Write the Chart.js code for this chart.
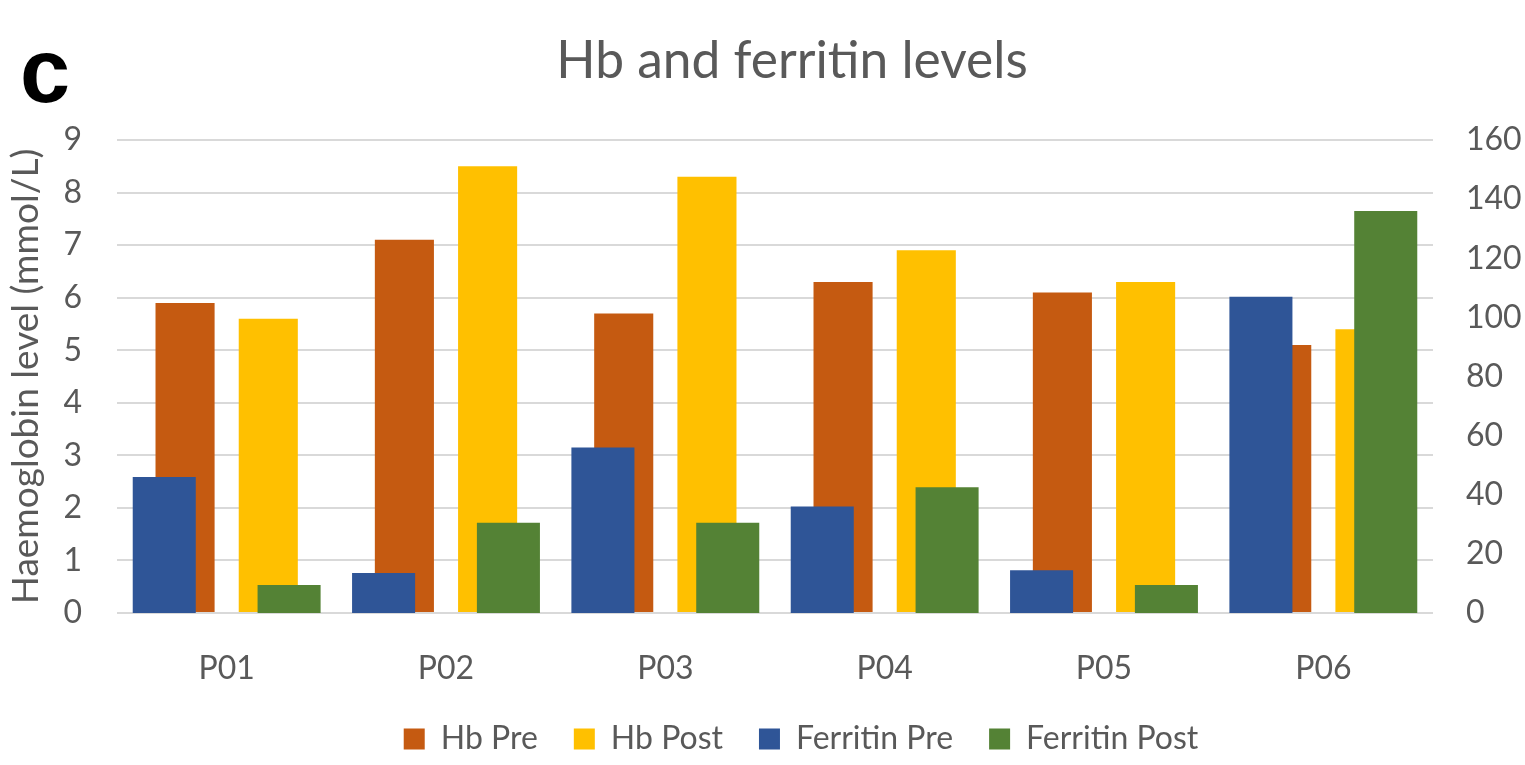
<!DOCTYPE html>
<html>
<head>
<meta charset="utf-8">
<title>Hb and ferritin levels</title>
<script src="https://cdn.jsdelivr.net/npm/chart.js@4.4.1/dist/chart.umd.min.js"></script>
<style>
  html, body { margin: 0; padding: 0; background: #fff; }
  #wrap { width: 1525px; height: 765px; position: relative; }
</style>
</head>
<body>
<div id="wrap"><canvas id="hbChart"></canvas></div>
<script>
const patients = ['P01', 'P02', 'P03', 'P04', 'P05', 'P06'];
const hbPre = [5.9, 7.1, 5.7, 6.3, 6.1, 5.1];
const hbPost = [5.6, 8.5, 8.3, 6.9, 6.3, 5.4];
const ferritinPre = [46, 13.5, 56, 36, 14.5, 107];
const ferritinPost = [9.5, 30.5, 30.5, 42.5, 9.5, 136];
const chartTitle = 'Hb and ferritin levels';
const panelLetter = 'c';
const leftAxisTitle = 'Haemoglobin level (mmol/L)';
const legendOrder = ['Hb Pre', 'Hb Post', 'Ferritin Pre', 'Ferritin Post'];

const grey = '#595959';
const tickFont = { family: 'Lato', size: 32 };

// empty slots so the Excel-like uneven bar spacing comes out of the grouping
const gap = () => ({
  label: '',
  data: patients.map(() => null),
  yAxisID: 'y',
  backgroundColor: 'rgba(0,0,0,0)'
});

// Excel draws the ferritin series over the Hb ones
const drawOrder = ['Hb Pre', 'Hb Post', 'Ferritin Pre', 'Ferritin Post'];

const layerPlugin = {
  id: 'layers',
  afterLayout(chart) {
    // legend centred like the original, a bit right of the canvas middle
    const lg = chart.legend;
    const shift = 801 - (lg.left + lg.right) / 2;
    lg.left += shift;
    lg.right += shift;
  },
  beforeDatasetsDraw(chart) {
    drawOrder.forEach(name => {
      const i = chart.data.datasets.findIndex(d => d.label === name);
      chart.getDatasetMeta(i).controller.draw();
    });
    return false;
  },
  afterDraw(chart) {
    const c = chart.ctx;
    c.save();
    c.fillStyle = grey;
    c.font = '51.5px Lato';
    c.textAlign = 'center';
    c.textBaseline = 'alphabetic';
    c.fillText(chartTitle, 792, 78);
    c.fillStyle = '#000';
    c.font = 'bold 90px "Liberation Sans"';
    c.textAlign = 'left';
    c.fillText(panelLetter, 20, 102);
    c.restore();
  }
};

const ctx = document.getElementById('hbChart').getContext('2d');

const hbChart = new Chart(ctx, {
  type: 'bar',
  data: {
    labels: patients,
    datasets: [
      {
        label: 'Ferritin Pre',
        data: ferritinPre,
        backgroundColor: '#2F5597',
        yAxisID: 'y2',
        barPercentage: 3.03
      },
      {
        label: 'Hb Pre',
        data: hbPre,
        backgroundColor: '#C55A11',
        yAxisID: 'y',
        barPercentage: 2.84
      },
      gap(),
      gap(),
      gap(),
      {
        label: 'Hb Post',
        data: hbPost,
        backgroundColor: '#FFC000',
        yAxisID: 'y',
        barPercentage: 2.84
      },
      {
        label: 'Ferritin Post',
        data: ferritinPost,
        backgroundColor: '#548235',
        yAxisID: 'y2',
        barPercentage: 3.03
      }
    ]
  },
  options: {
    responsive: true,
    maintainAspectRatio: false,
    animation: false,
    datasets: {
      bar: { categoryPercentage: 0.664 }
    },
    layout: {
      padding: { top: 140, left: 0, right: 0, bottom: 0 }
    },
    plugins: {
      title: { display: false },
      tooltip: { enabled: false },
      legend: {
        position: 'bottom',
        labels: {
          boxWidth: 21,
          boxHeight: 21,
          padding: 36,
          color: grey,
          font: tickFont,
          filter: (item) => item.text !== '',
          sort: (a, b) => legendOrder.indexOf(a.text) - legendOrder.indexOf(b.text)
        }
      }
    },
    scales: {
      x: {
        type: 'category',
        offset: true,
        grid: { display: false, offset: true },
        border: { display: false },
        ticks: { color: grey, font: tickFont, padding: 28.8 },
        afterFit: (scale) => { scale.height = 74; }
      },
      y: {
        position: 'left',
        min: 0,
        max: 9,
        ticks: { stepSize: 1, color: grey, font: tickFont, padding: 35 },
        grid: { color: '#D9D9D9', lineWidth: 2, drawTicks: false },
        border: { display: false },
        title: {
          display: true,
          text: leftAxisTitle,
          color: grey,
          font: { family: 'Lato', size: 37 },
          padding: { top: 3.8, bottom: 0 }
        },
        afterFit: (scale) => { scale.width = 117; }
      },
      y2: {
        position: 'right',
        min: 0,
        max: 160,
        ticks: { stepSize: 20, color: grey, font: tickFont, padding: 33 },
        grid: { display: false, drawTicks: false },
        border: { display: false },
        afterFit: (scale) => { scale.width = 92; }
      }
    }
  },
  plugins: [layerPlugin]
});
</script>
</body>
</html>
